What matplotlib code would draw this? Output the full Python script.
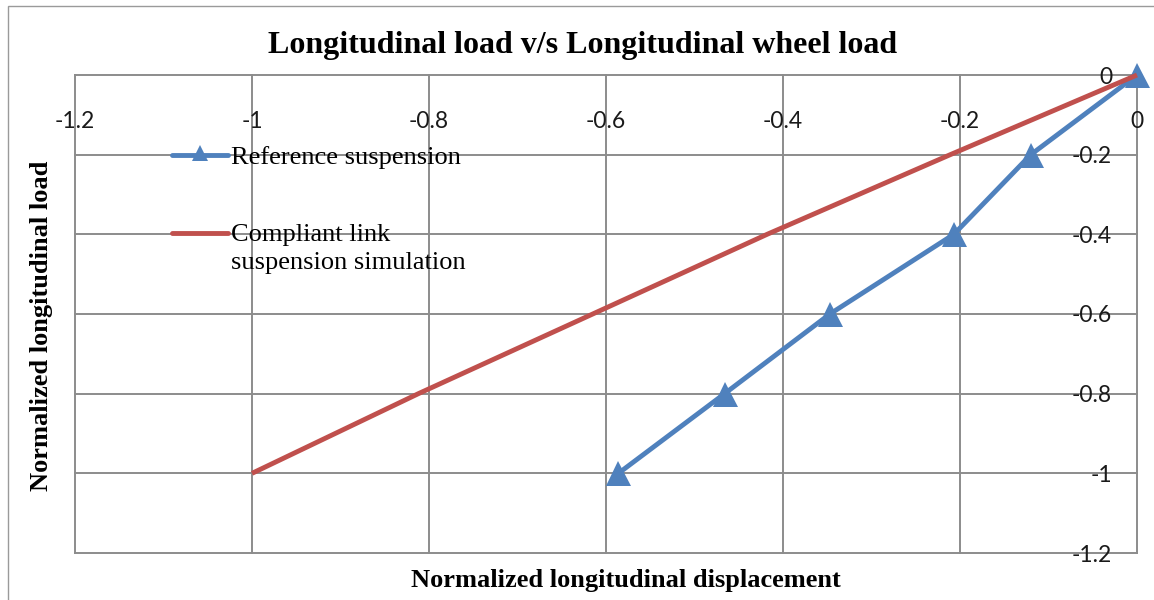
import matplotlib
matplotlib.use("Agg")
import matplotlib.pyplot as plt
from matplotlib.patches import Rectangle

# Series data
ref_x = [0.0, -0.12, -0.207, -0.347, -0.466, -0.586]
ref_y = [0.0, -0.2, -0.4, -0.6, -0.8, -1.0]
sim_x = [0.0, -0.211, -0.418, -0.615, -0.812, -1.0]
sim_y = [0.0, -0.2, -0.4, -0.6, -0.8, -1.0]

x_ticks = [-1.2, -1.0, -0.8, -0.6, -0.4, -0.2, 0.0]
y_ticks = [0.0, -0.2, -0.4, -0.6, -0.8, -1.0, -1.2]
x_tick_labels = ["-1.2", "-1", "-0.8", "-0.6", "-0.4", "-0.2", "0"]
y_tick_labels = ["0", "-0.2", "-0.4", "-0.6", "-0.8", "-1", "-1.2"]

series_names = ["Reference suspension", "Compliant link\nsuspension simulation"]
title = "Longitudinal load v/s Longitudinal wheel load"
x_label = "Normalized longitudinal displacement"
y_label = "Normalized longitudinal load"

BLUE = "#4F81BD"
RED = "#C0504D"
GRID = "#8C8C8C"
SERIF = "Liberation Serif"
SANS = "Lato"

W, H = 1154, 600
fig = plt.figure(figsize=(W / 100, H / 100), dpi=100)

# outer chart border (only the left and top edges fall inside the canvas)
fig.patches.append(Rectangle((7.5 / W, -0.1), 1.2, 1.1 - 6.5 / H, transform=fig.transFigure,
                             fill=False, edgecolor="#9A9A9A", lw=1.0))

left, right, top, bottom = 75, 1137, 75, 553
ax = fig.add_axes([left / W, 1 - bottom / H, (right - left) / W, (bottom - top) / H])
ax.set_xlim(-1.2, 0.0)
ax.set_ylim(-1.2, 0.0)
for s in ax.spines.values():
    s.set_visible(False)
ax.set_xticks([])
ax.set_yticks([])

# gridlines, including the boundary lines of the plot area
for xv in x_ticks:
    ax.axvline(xv, color=GRID, lw=1.4, zorder=1, clip_on=False)
for yv in y_ticks:
    ax.axhline(yv, color=GRID, lw=1.4, zorder=1, clip_on=False)

# tick labels: x labels hang below the top axis, y labels sit left of the right axis
for xv, lab in zip(x_ticks, x_tick_labels):
    ax.annotate(lab, xy=(xv, 0.0), xycoords="data", xytext=(0, -47), textcoords="offset pixels",
                ha="center", va="center", fontsize=16.5, family=SANS, color="#1A1A1A", zorder=5)
for yv, lab in zip(y_ticks, y_tick_labels):
    ax.annotate(lab, xy=(0.0, yv), xycoords="data", xytext=(-25, -2), textcoords="offset pixels",
                ha="right", va="center", fontsize=16.5, family=SANS, color="#1A1A1A", zorder=5)

# series
ax.plot(ref_x, ref_y, color=BLUE, lw=3.5, marker="^", markersize=18, markeredgewidth=0,
        zorder=3, clip_on=False, solid_capstyle="round")
ax.plot(sim_x, sim_y, color=RED, lw=3.5, zorder=4, clip_on=False, solid_capstyle="butt")

# legend drawn inside the plot area
def ax_x(px):
    return (px - left) / (right - left)

def ax_y(py):
    return 1 - (py - top) / (bottom - top)

ax.plot([ax_x(172), ax_x(228)], [ax_y(155)] * 2, transform=ax.transAxes, color=BLUE, lw=3.5,
        solid_capstyle="round", zorder=6)
ax.plot([ax_x(200)], [ax_y(153)], transform=ax.transAxes, color=BLUE, marker="^",
        markersize=12, markeredgewidth=0, zorder=6)
ax.text(ax_x(231), ax_y(158), series_names[0], transform=ax.transAxes, ha="left", va="center",
        fontsize=19, family=SERIF, color="black", zorder=6)
ax.plot([ax_x(172), ax_x(228)], [ax_y(233)] * 2, transform=ax.transAxes, color=RED, lw=3.5,
        solid_capstyle="round", zorder=6)
ax.text(ax_x(231), ax_y(249), series_names[1], transform=ax.transAxes, ha="left", va="center",
        fontsize=19, family=SERIF, color="black", linespacing=1.38, zorder=6)

# titles
fig.text(583 / W, 1 - 45 / H, title, ha="center", va="center", fontsize=23,
         fontweight="bold", family=SERIF)
fig.text(626 / W, 1 - 580 / H, x_label, ha="center", va="center", fontsize=19,
         fontweight="bold", family=SERIF)
fig.text(42 / W, 1 - 326 / H, y_label, ha="center", va="center", fontsize=19,
         fontweight="bold", family=SERIF, rotation=90)

fig.savefig("out.png", dpi=100)
